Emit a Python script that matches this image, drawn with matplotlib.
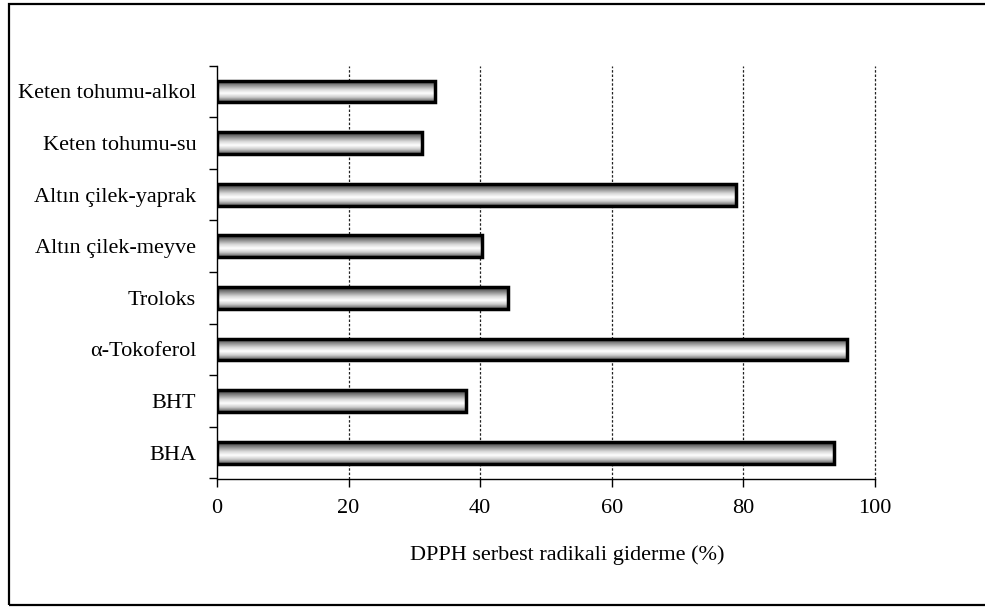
import numpy as np
import matplotlib
matplotlib.use("Agg")
import matplotlib.pyplot as plt
from matplotlib.colors import LinearSegmentedColormap
from matplotlib.patches import Rectangle

# Samples, listed from the bottom bar to the top bar
categories = ["BHA", "BHT", "α-Tokoferol", "Troloks",
              "Altın çilek-meyve", "Altın çilek-yaprak",
              "Keten tohumu-su", "Keten tohumu-alkol"]
values = [93.8, 37.9, 95.8, 44.3, 40.2, 78.9, 31.1, 33.2]
x_ticks = [0, 20, 40, 60, 80, 100]
x_label = "DPPH serbest radikali giderme (%)"

plt.rcParams["font.family"] = ["Liberation Serif", "DejaVu Serif"]
plt.rcParams["font.size"] = 16

fig = plt.figure(figsize=(9.85, 6.07), dpi=100)
ax = fig.add_axes([217 / 985, 1 - 478.5 / 607, 658 / 985, 412.8 / 607])

# outer frame around the whole chart
fig.patches.append(Rectangle((9 / 985, 2 / 607), 1.2, 601 / 607,
                             transform=fig.transFigure, fill=False,
                             edgecolor="black", linewidth=1.6, zorder=0))

# cylinder-like shading across each bar (top -> bottom)
shade = LinearSegmentedColormap.from_list(
    "cyl", [(0.0, "#333333"), (0.18, "#777777"), (0.42, "#d6d6d6"),
            (0.6, "#ffffff"), (0.78, "#cccccc"), (1.0, "#505050")])
grad = np.linspace(0, 1, 256).reshape(-1, 1)

y = np.arange(len(categories))
bars = ax.barh(y, values, height=0.42, facecolor="none",
               edgecolor="black", linewidth=2.5, zorder=4)
for b in bars:
    x0, y0, w, h = b.get_x(), b.get_y(), b.get_width(), b.get_height()
    ax.imshow(grad, cmap=shade, aspect="auto", origin="upper",
              extent=(x0, x0 + w, y0, y0 + h), zorder=3,
              interpolation="bilinear")

ax.set_xlim(0, 100)
ax.set_ylim(-0.5, len(categories) - 0.5)

# vertical grid lines
for xv in x_ticks[1:]:
    ax.axvline(xv, color="#222222", linewidth=0.9,
               linestyle=(0, (2, 1.5)), zorder=1, clip_on=False)

ax.spines["top"].set_visible(False)
ax.spines["right"].set_visible(False)
for s in ("left", "bottom"):
    ax.spines[s].set_linewidth(1.0)
    ax.spines[s].set_zorder(5)

ax.set_xticks(x_ticks)
ax.set_xticklabels([str(v) for v in x_ticks])
ax.tick_params(axis="x", direction="out", length=6, width=1.0, pad=9)

ax.set_yticks(np.arange(-0.5, len(categories), 1.0))
ax.set_yticklabels([])
ax.set_yticks(y, minor=True)
ax.set_yticklabels(categories, minor=True)
ax.tick_params(axis="y", which="major", direction="out", length=6, width=1.0)
ax.tick_params(axis="y", which="minor", length=0, pad=15)

fig.text(567 / 985, 1 - 555 / 607, x_label, ha="center", va="center",
         fontsize=16)

fig.savefig("out.png", dpi=100)
